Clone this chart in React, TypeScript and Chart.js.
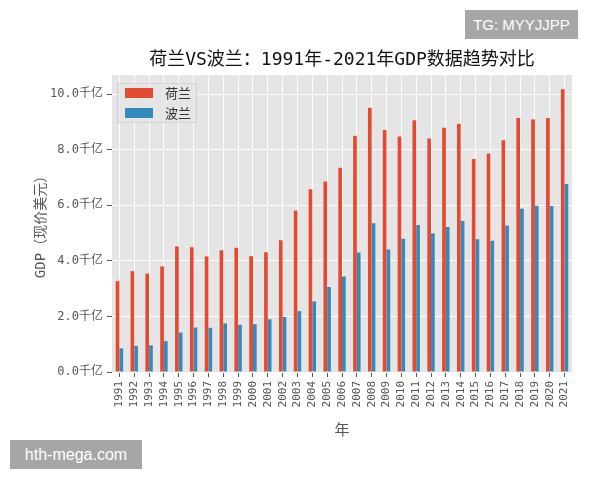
import React, { useEffect, useRef } from "react";
import { Chart, registerables } from "chart.js";

Chart.register(...registerables);

const years = [
  "1991", "1992", "1993", "1994", "1995", "1996", "1997", "1998", "1999", "2000",
  "2001", "2002", "2003", "2004", "2005", "2006", "2007", "2008", "2009", "2010",
  "2011", "2012", "2013", "2014", "2015", "2016", "2017", "2018", "2019", "2020", "2021",
];

// GDP in 千亿 (100 billion USD)
const netherlands = [
  3.27, 3.63, 3.54, 3.8, 4.52, 4.49, 4.16, 4.38, 4.47, 4.17,
  4.31, 4.74, 5.81, 6.58, 6.86, 7.35, 8.5, 9.51, 8.71, 8.48,
  9.06, 8.4, 8.79, 8.93, 7.67, 7.86, 8.34, 9.14, 9.09, 9.14, 10.18,
];
const poland = [
  0.85, 0.94, 0.96, 1.11, 1.42, 1.6, 1.59, 1.75, 1.7, 1.72,
  1.9, 1.98, 2.19, 2.54, 3.06, 3.44, 4.3, 5.35, 4.41, 4.8,
  5.29, 4.99, 5.22, 5.43, 4.78, 4.72, 5.27, 5.88, 5.98, 5.97, 6.77,
];
const seriesNames = ["荷兰", "波兰"];
const titleText = "荷兰VS波兰：1991年-2021年GDP数据趋势对比";
const yTitle = "GDP（现价美元）";
const xTitle = "年";
const tickUnit = "千亿";

const RED = "#E24A33";
const BLUE = "#348ABD";
const CJK = "'Noto Sans CJK SC', 'Noto Sans', sans-serif";
const MIX = "'DejaVu Sans Mono', 'Noto Sans CJK SC', sans-serif";

const bgPlugin = {
  id: "plotBg",
  beforeDraw(chart: any) {
    const { ctx, chartArea: a, width, height } = chart;
    ctx.save();
    ctx.fillStyle = "#ffffff";
    ctx.fillRect(0, 0, width, height);
    ctx.fillStyle = "#E5E5E5";
    ctx.fillRect(a.left, a.top, a.right - a.left, a.bottom - a.top);
    ctx.restore();
  },
};

const legendPlugin = {
  id: "innerLegend",
  afterDatasetsDraw(chart: any) {
    const { ctx, chartArea: a } = chart;
    const x0 = a.left + 5;
    const y0 = a.top + 8;
    const ds = chart.data.datasets;
    const w = 80;
    const h = ds.length * 20;
    ctx.save();
    ctx.fillStyle = "rgba(229,229,229,0.85)";
    ctx.fillRect(x0, y0, w, h);
    ctx.strokeStyle = "#d4d4d4";
    ctx.lineWidth = 1;
    ctx.strokeRect(x0 + 0.5, y0 + 0.5, w - 1, h - 1);
    ds.forEach((d: any, i: number) => {
      const cy = y0 + 10 + i * 20;
      ctx.fillStyle = d.backgroundColor;
      ctx.fillRect(x0 + 8, cy - 5, 28, 10);
      ctx.fillStyle = "#333";
      ctx.font = `13px ${CJK}`;
      ctx.textBaseline = "middle";
      ctx.textAlign = "left";
      ctx.fillText(d.label, x0 + 48, cy);
    });
    ctx.restore();
  },
};

export default function App() {
  const ref = useRef<HTMLCanvasElement | null>(null);

  useEffect(() => {
    document.body.style.margin = "0";
    if (!ref.current) return;
    const yMax = Math.max(...netherlands, ...poland) * 1.05;
    const chart = new Chart(ref.current, {
      type: "bar",
      data: {
        labels: years,
        datasets: [
          { label: seriesNames[0], data: netherlands, backgroundColor: RED, categoryPercentage: 0.5, barPercentage: 1.0 },
          { label: seriesNames[1], data: poland, backgroundColor: BLUE, categoryPercentage: 0.5, barPercentage: 1.0 },
        ],
      },
      options: {
        responsive: false,
        animation: false,
        layout: { padding: { left: 0, right: 28, top: 0, bottom: 0 } },
        plugins: {
          legend: { display: false },
          tooltip: { enabled: false },
          title: {
            display: true,
            text: titleText,
            color: "#111",
            fullSize: false,
            font: { family: MIX, size: 18, weight: "normal" },
            padding: { top: 49.2, bottom: 4.2 },
          },
        },
        scales: {
          x: {
            offset: true,
            grid: { color: "#ffffff", lineWidth: 1, offset: false, tickColor: "#555", tickLength: 5 },
            border: { display: false },
            ticks: {
              color: "#555",
              autoSkip: false,
              minRotation: 90,
              maxRotation: 90,
              padding: 4,
              font: { family: MIX, size: 11 },
            },
            title: {
              display: true,
              text: xTitle,
              color: "#555",
              font: { family: CJK, size: 15 },
              padding: { top: 0, bottom: 42 },
            },
            afterFit(scale: any) {
              scale.height = 108;
            },
          },
          y: {
            min: 0,
            max: yMax,
            grid: { color: "#ffffff", lineWidth: 1, tickColor: "#555", tickLength: 5 },
            border: { display: false },
            ticks: {
              stepSize: 2,
              includeBounds: false,
              color: "#555",
              padding: 4,
              font: { family: MIX, size: 12 },
              callback: (v: any) => `${Number(v).toFixed(1)}${tickUnit}`,
            },
            title: {
              display: true,
              text: yTitle,
              color: "#555",
              font: { family: MIX, size: 14 },
              padding: { top: 33, bottom: 0 },
            },
            afterFit(scale: any) {
              scale.width = 112;
            },
          },
        },
      },
      plugins: [bgPlugin, legendPlugin],
    } as any);
    return () => chart.destroy();
  }, []);

  const badge: React.CSSProperties = {
    position: "absolute",
    background: "#a6a6a6",
    color: "#ffffff",
    fontFamily: "'Liberation Sans', Arial, sans-serif",
    display: "flex",
    alignItems: "center",
    justifyContent: "center",
  };

  return (
    <div style={{ position: "fixed", left: 0, top: 0, width: 600, height: 480, background: "#fff" }}>
      <canvas ref={ref} width={600} height={480} style={{ width: 600, height: 480, display: "block" }} />
      <div style={{ ...badge, left: 465, top: 10, width: 113, height: 29, fontSize: 15 }}>TG: MYYJJPP</div>
      <div style={{ ...badge, left: 10, top: 440, width: 132, height: 29, fontSize: 16 }}>hth-mega.com</div>
    </div>
  );
}
